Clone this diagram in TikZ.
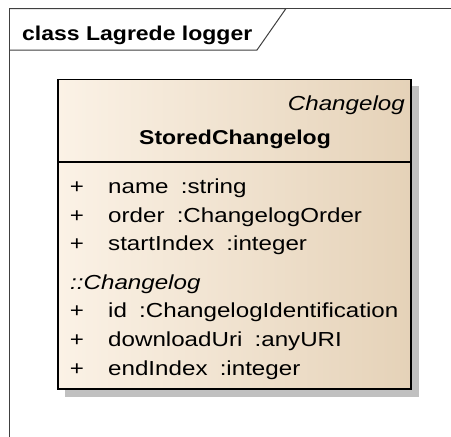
\documentclass[tikz,border=0pt]{standalone}
\usepackage{fontspec}
\newfontfamily\umlfont[FakeStretch=1.15]{Liberation Sans}
\newfontfamily\umlattrfont[FakeStretch=1.19]{Liberation Sans}
\definecolor{framecol}{HTML}{404040}
\definecolor{boxleft}{HTML}{FBF2E6}
\definecolor{boxright}{HTML}{E5D2B8}
\definecolor{shadowcol}{HTML}{C0C0C0}
\begin{document}
\begin{tikzpicture}[x=1pt,y=-1pt,
  txt/.style={inner sep=0pt,font=\umlattrfont\fontsize{20.3}{24}\selectfont},
  attr/.style={txt,anchor=base west},
  plus/.style={txt,anchor=base}]
\useasboundingbox (0,0) rectangle (451,437);
\fill[white] (0,0) rectangle (451,437);
% frame
\draw[framecol,line width=1pt] (9.5,437) -- (9.5,8.5) -- (451,8.5);
\draw[framecol,line width=1pt] (9.5,8.5) -- (286,8.5) -- (257,50) -- (9.5,50);
\node[txt,anchor=base west,font=\umlfont\bfseries\fontsize{20}{24}\selectfont] (title) at (22,40) {class Lagrede logger};
% shadow
\fill[shadowcol] (65,86) rectangle (419,397);
% class box
\shade[left color=boxleft,right color=boxright] (58,79.5) rectangle (411,389);
\draw[black,line width=1.6pt] (58,79.5) rectangle (411,389);
\draw[black,line width=1.6pt] (58,162) -- (411,162);
\node[txt,anchor=base east,font=\umlattrfont\itshape\fontsize{20.3}{24}\selectfont] (stereo) at (405,110) {Changelog};
\node[txt,anchor=base,font=\umlfont\bfseries\fontsize{20}{24}\selectfont] (cname) at (235,144) {StoredChangelog};
\node[plus] (p1) at (77,193) {+};
\node[attr] (a1) at (108,193) {name\hspace{0.6em}:string};
\node[plus] (p2) at (77,222) {+};
\node[attr] (a2) at (108,222) {order\hspace{0.6em}:ChangelogOrder};
\node[plus] (p3) at (77,250) {+};
\node[attr] (a3) at (108,250) {startIndex\hspace{0.6em}:integer};
\node[attr,font=\umlattrfont\itshape\fontsize{20.3}{24}\selectfont] (inh) at (70,289) {::Changelog};
\node[plus] (p4) at (77,317) {+};
\node[attr] (a4) at (108,317) {id\hspace{0.6em}:ChangelogIdentification};
\node[plus] (p5) at (77,346) {+};
\node[attr] (a5) at (108,346) {downloadUri\hspace{0.6em}:anyURI};
\node[plus] (p6) at (77,375) {+};
\node[attr] (a6) at (108,375) {endIndex\hspace{0.6em}:integer};
\end{tikzpicture}
\end{document}
